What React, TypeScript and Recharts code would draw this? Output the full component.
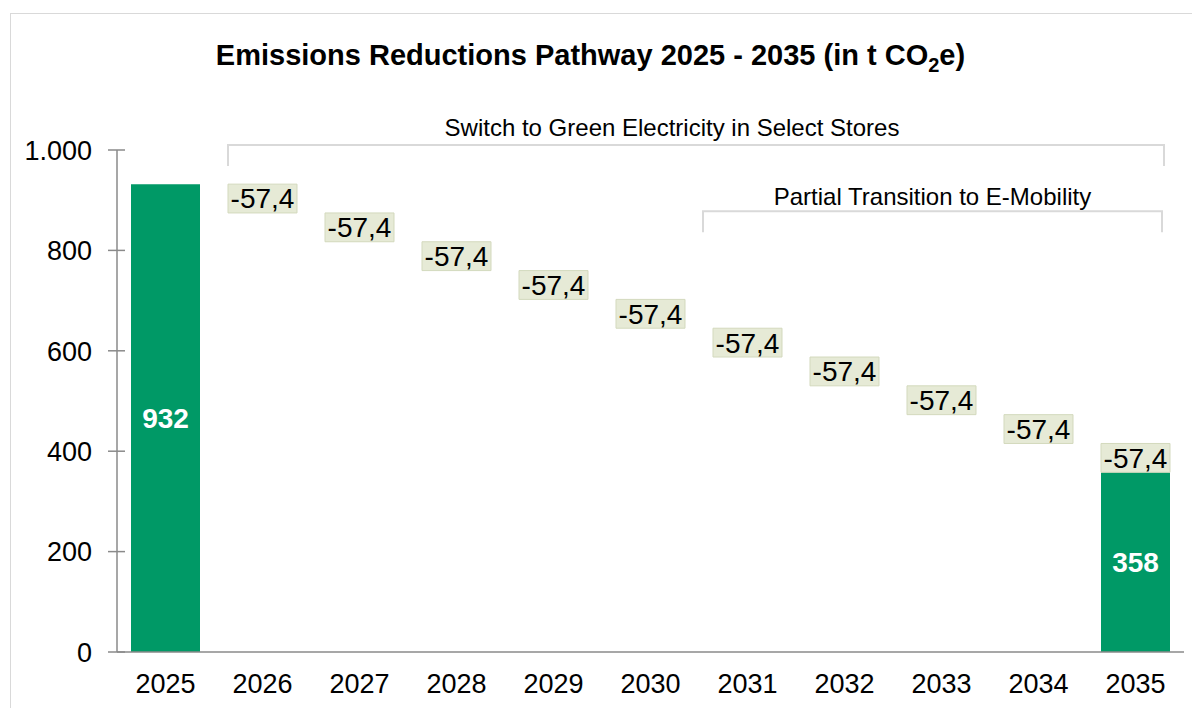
import React from 'react';
import * as RC from 'recharts';
import { ComposedChart, Bar, XAxis, YAxis, LabelList, Customized } from 'recharts';

const years = ['2025', '2026', '2027', '2028', '2029', '2030', '2031', '2032', '2033', '2034', '2035'];
const startValue = 932;
const endValue = 358;
const reductions = [57.4, 57.4, 57.4, 57.4, 57.4, 57.4, 57.4, 57.4, 57.4, 57.4];
const reductionLabels = ['-57,4', '-57,4', '-57,4', '-57,4', '-57,4', '-57,4', '-57,4', '-57,4', '-57,4', '-57,4'];
const yTicks = [0, 200, 400, 600, 800, 1000];
const yTickLabels = ['0', '200', '400', '600', '800', '1.000'];
const bracket1Text = 'Switch to Green Electricity in Select Stores';
const bracket2Text = 'Partial Transition to E-Mobility';

const FONT = '"Liberation Sans", Arial, Helvetica, sans-serif';
const GREEN = '#009966';
const BOX = '#e6eAd6';
const BOX_STROKE = '#d3d9bd';
const AXIS = '#8a8a8a';
const BRACKET = '#d9d9d9';

type Row = { year: string; total: number; base: number; delta: number; label: string; totalLabel: string };

const data: Row[] = (() => {
  const rows: Row[] = [];
  let running = startValue;
  rows.push({ year: years[0], total: startValue, base: 0, delta: 0, label: '', totalLabel: String(startValue) });
  for (let i = 0; i < reductions.length; i++) {
    running -= reductions[i];
    const last = i === reductions.length - 1;
    rows.push({
      year: years[i + 1],
      total: last ? endValue : 0,
      base: last ? 0 : running,
      delta: reductions[i],
      label: reductionLabels[i],
      totalLabel: last ? String(endValue) : '',
    });
  }
  return rows;
})();

const BAR_SIZE = 69;
const CHART_W = 1192;
const CHART_H = 700;
const MARGIN = { top: 142, right: 16, bottom: 26, left: 0 };
const Y_W = 109;
const X_H = 30;

const YTick = (props: any) => {
  const { x, y, payload } = props;
  const idx = yTicks.indexOf(payload.value);
  return (
    <g>
      <line x1={x - 9} x2={x + 8} y1={y} y2={y} stroke={AXIS} strokeWidth={1.5} />
      <text x={x - 25} y={y} dy="0.36em" textAnchor="end" fontSize={27} fontFamily={FONT} fill="#000">
        {idx >= 0 ? yTickLabels[idx] : payload.value}
      </text>
    </g>
  );
};

const Brackets = () => {
  const hook = (RC as any).usePlotArea;
  const pa = hook ? hook() : null;
  const plot = pa || { x: Y_W, y: MARGIN.top, width: CHART_W - Y_W - MARGIN.right, height: CHART_H - MARGIN.top - MARGIN.bottom - X_H };
  const band = plot.width / years.length;
  const cx = (i: number) => plot.x + band * (i + 0.5);
  const vy = (v: number) => plot.y + plot.height * (1 - v / 1000);
  const half = BAR_SIZE / 2;

  const b1y = vy(1010);
  const b1l = cx(1) - half;
  const b1r = cx(10) + half - 6;
  const b2y = vy(878);
  const b2l = cx(6) - half - 10;
  const b2r = cx(10) + half - 8;
  const tick = 21;
  return (
    <g>
      <path d={`M${b1l},${b1y + tick} V${b1y} H${b1r} V${b1y + tick}`} fill="none" stroke={BRACKET} strokeWidth={2} />
      <text x={(b1l + b1r) / 2 - 24} y={b1y - 9} textAnchor="middle" fontSize={24} fontFamily={FONT} fill="#000">
        {bracket1Text}
      </text>
      <path d={`M${b2l},${b2y + tick} V${b2y} H${b2r} V${b2y + tick}`} fill="none" stroke={BRACKET} strokeWidth={2} />
      <text x={(b2l + b2r) / 2} y={b2y - 6} textAnchor="middle" fontSize={24} fontFamily={FONT} fill="#000">
        {bracket2Text}
      </text>
    </g>
  );
};

export default function App() {
  return (
    <div style={{ position: 'relative', width: CHART_W, height: CHART_H, overflow: 'hidden', fontFamily: FONT, background: '#fff' }}>
      <div
        style={{
          position: 'absolute',
          left: 2,
          top: 5,
          width: 1400,
          height: 900,
          border: `1.5px solid ${BRACKET}`,
          boxSizing: 'border-box',
        }}
      />
      <div
        style={{
          position: 'absolute',
          left: 0,
          width: 1165,
          top: 27,
          textAlign: 'center',
          fontWeight: 'bold',
          fontSize: 29,
          lineHeight: '40px',
          color: '#000',
          fontFamily: FONT,
        }}
      >
        Emissions Reductions Pathway 2025 - 2035 (in t CO<sub style={{ fontSize: 20, lineHeight: 0 }}>2</sub>e)
      </div>
      <div style={{ position: 'absolute', left: 0, top: 0 }}>
        <ComposedChart width={CHART_W} height={CHART_H} data={data} margin={MARGIN} barSize={BAR_SIZE}>
          <XAxis
            dataKey="year"
            height={X_H}
            axisLine={{ stroke: AXIS, strokeWidth: 1.5 }}
            tickLine={false}
            tickSize={0}
            tickMargin={22}
            tick={{ fontSize: 27, fill: '#000', fontFamily: FONT }}
            interval={0}
          />
          <YAxis
            width={Y_W}
            domain={[0, 1000]}
            ticks={yTicks}
            allowDataOverflow
            axisLine={{ stroke: AXIS, strokeWidth: 1.5 }}
            tickLine={false}
            tickSize={0}
            tickMargin={0}
            tick={<YTick />}
          />
          <Bar dataKey="total" stackId="w" fill={GREEN} isAnimationActive={false}>
            <LabelList
              dataKey="totalLabel"
              position="center"
              fill="#fff"
              fontSize={28}
              fontWeight="bold"
              fontFamily={FONT}
            />
          </Bar>
          <Bar dataKey="base" stackId="w" fill="transparent" isAnimationActive={false} />
          <Bar dataKey="delta" stackId="w" fill={BOX} stroke={BOX_STROKE} strokeWidth={1} isAnimationActive={false}>
            <LabelList dataKey="label" position="center" fill="#000" fontSize={28} fontFamily={FONT} />
          </Bar>
          <Customized component={Brackets} />
        </ComposedChart>
      </div>
    </div>
  );
}
